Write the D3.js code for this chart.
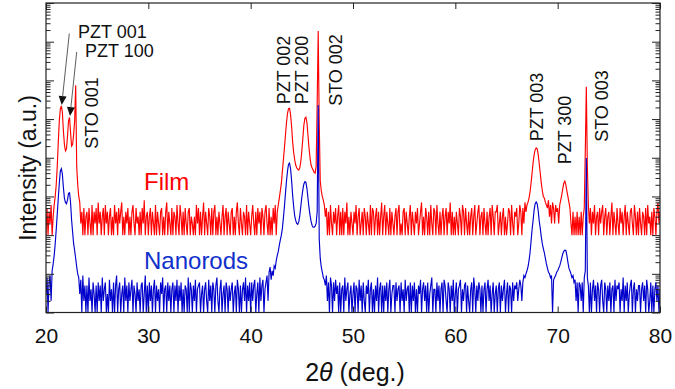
<!DOCTYPE html>
<html><head><meta charset="utf-8">
<script src="https://cdn.jsdelivr.net/npm/d3@7"></script>
<style>body{margin:0;background:#fff}svg{display:block}text{font-family:"Liberation Sans",Arial,sans-serif}</style>
</head><body><svg id="c" width="675" height="389"></svg>
<script>
// ---- data (2θ from 20° to 80° in 0.1° steps) ----
const thetaStart = 20, thetaStep = 0.1;
const filmOffset = 100; // vertical offset factor of the film pattern
const filmCounts = [
1,5,1,4,2,6,1,3,6,10,
20,60,250,900,1800,2200,1500,500,220,150,
170,350,900,1100,450,200,220,400,900,7500,
60,20,10,7,2,4,1,5,1,3,
4,1,5,2,1,6,1,4,2,5,
1,7,2,4,1,3,5,1,6,2,
4,1,3,5,1,3,1,6,2,4,
1,5,2,4,7,1,3,1,4,2,
5,1,3,1,4,6,2,1,5,2,
3,1,4,1,5,2,8,1,3,4,
1,3,5,1,4,2,1,6,1,4,
2,1,4,5,1,3,1,4,7,1,
4,2,1,5,1,4,3,1,6,2,
1,6,3,1,4,1,5,2,1,4,
5,1,3,2,1,3,1,6,2,5,
1,4,1,3,7,1,4,2,1,5,
3,1,5,1,4,6,1,3,1,4,
2,1,3,6,1,3,5,1,4,2,
1,4,5,1,3,1,4,7,2,1,
5,2,1,4,3,1,6,1,4,2,
1,3,6,2,1,4,1,5,2,4,
1,5,3,1,4,6,2,1,5,1,
3,1,5,2,6,1,4,6,9,14,
22,45,90,180,380,800,1400,1850,1900,1300,
650,260,140,90,65,55,50,48,55,80,
150,320,700,1050,1120,800,380,180,100,65,
55,48,42,40,60,2500,190000,800,25,14,
10,8,6,3,5,1,4,1,6,2,
1,4,2,5,1,3,6,1,4,1,
5,1,4,2,7,1,3,1,4,2,
1,4,2,6,1,3,5,1,2,4,
1,5,3,1,4,2,1,6,1,5,
4,1,3,5,1,4,1,3,7,1,
3,6,1,4,2,1,5,1,4,2,
1,3,5,1,4,6,1,2,1,4,
5,1,4,2,1,3,6,1,4,2,
1,4,2,5,1,2,4,7,1,3,
1,5,3,1,4,1,6,2,1,5,
4,1,6,2,1,4,1,3,5,1,
3,5,1,4,2,7,1,4,1,3,
1,4,2,1,5,3,1,6,4,1,
5,2,1,4,1,3,5,1,3,6,
1,2,4,6,1,3,4,1,5,2,
1,4,1,3,5,1,6,3,1,4,
4,6,1,2,4,1,3,5,1,3,
1,2,5,4,1,6,2,1,4,3,
5,1,2,6,4,1,5,2,7,4,
6,7,9,13,22,40,75,120,160,180,
170,120,70,40,22,14,10,9,7,6,
5,8,3,6,2,7,5,2,6,4,
5,2,6,8,11,16,22,25,20,14,
10,7,5,2,1,4,1,3,1,4,
1,3,1,4,1,3,5,150,6800,60,
6,2,5,1,4,2,6,1,3,4,
1,5,2,4,6,1,3,5,1,3,
4,1,3,7,1,4,2,1,5,2,
1,5,2,4,1,3,6,1,4,2,
1,4,5,2,1,6,3,1,4,1,
5,2,1,4,3,1,5,1,6,2,
3,1,4,1,5,3,1,4,7,2,
4];
const nanorodCounts = [
3,8,1,6,9,2,12,18,30,60,
140,350,900,2200,4500,5200,3800,1700,900,700,
650,800,1200,1250,700,250,120,60,40,25,
15,10,8,3,7,1,9,2,5,1,
5,1,8,2,4,1,6,3,1,5,
1,6,2,5,1,8,2,4,6,1,
3,1,7,2,4,1,6,1,5,9,
1,4,6,1,3,5,1,8,2,5,
1,6,2,4,7,1,5,3,1,6,
2,4,1,5,6,1,3,9,1,5,
1,6,2,5,1,4,7,1,5,2,
4,1,6,3,8,1,4,5,1,6,
2,5,1,4,6,1,5,2,7,1,
5,2,6,1,4,1,5,4,1,8,
1,6,4,1,5,2,7,1,4,5,
6,1,3,5,1,4,6,2,1,7,
2,5,1,6,4,1,5,8,2,1,
4,7,1,3,5,1,6,4,1,5,
2,4,6,1,3,5,1,7,4,1,
5,1,4,6,2,8,1,5,2,6,
1,6,2,5,7,1,3,6,1,8,
2,5,7,1,4,6,9,2,11,15,
7,12,9,16,14,22,30,38,55,75,
100,150,280,550,1200,2500,4500,6800,7300,5200,
2600,1100,550,320,240,200,190,220,320,550,
950,1500,2100,2400,2300,1600,900,520,330,230,
180,160,160,170,200,400,230000,80,25,15,
11,8,7,5,9,2,6,1,8,5,
1,6,2,7,3,5,1,6,1,4,
5,1,8,2,4,6,1,3,5,1,
3,6,1,5,4,1,7,2,5,1,
6,2,1,5,3,7,1,4,6,1,
4,1,5,2,8,1,4,6,1,5,
1,5,2,6,1,4,7,1,3,5,
5,1,6,2,4,5,1,6,2,4,
1,7,2,4,5,1,6,1,5,2,
6,1,4,1,5,3,7,1,4,6,
2,5,1,6,1,3,5,8,1,4,
4,1,6,2,5,1,4,6,1,7,
5,2,1,6,4,1,5,2,7,1,
3,6,1,4,5,7,1,4,2,5,
6,1,5,2,1,4,6,1,8,4,
1,5,2,6,4,1,5,1,4,6,
1,4,7,2,5,1,3,6,1,3,
5,1,4,6,1,5,2,4,7,1,
3,6,1,5,4,1,6,2,5,4,
6,2,4,7,5,2,6,9,8,10,
12,15,22,35,70,140,240,450,650,720,
650,420,230,150,90,60,45,35,25,18,
14,11,10,8,9,1,7,8,9,11,
12,14,16,20,26,33,38,41,40,30,
20,14,12,10,8,9,6,7,2,6,
1,6,5,2,6,1,8,12,9800,8,
5,1,6,1,4,7,2,5,1,6,
4,1,5,7,2,1,6,4,1,5,
2,6,1,4,5,1,7,2,5,4,
6,1,4,2,8,1,5,2,6,1,
3,5,7,1,4,6,1,4,2,5,
5,1,4,6,2,5,1,7,4,1,
2,6,1,5,1,4,6,2,5,1,
4];
const xTickValues = [20, 30, 40, 50, 60, 70, 80];
const yDecades = [1, 1e1, 1e2, 1e3, 1e4, 1e5, 1e6, 1e7, 1e8];
const seriesNames = ["Film", "Nanorods"];
const peakNames = ["PZT 001", "PZT 100", "STO 001", "PZT 002", "PZT 200", "STO 002", "PZT 003", "PZT 300", "STO 003"];

// ---- drawing ----
const svg = d3.select("#c");
const L = 46, R = 660, T = 3, B = 312.5;
const x = d3.scaleLinear().domain([20, 80]).range([L, R]);
const y = d3.scaleLog().domain([1, 1e8]).range([B, T]);
const red = "#ff0000", blue = "#0000cc";

svg.append("defs").append("clipPath").attr("id", "clip")
  .append("rect").attr("x", L).attr("y", T).attr("width", R - L).attr("height", B - T);

const tt = i => thetaStart + i * thetaStep;
const filmLine = d3.line().x((d, i) => x(tt(i))).y(d => y(d * filmOffset));
const rodLine = d3.line().x((d, i) => x(tt(i))).y(d => y(d));

const g = svg.append("g").attr("clip-path", "url(#clip)");
g.append("path").datum(filmCounts).attr("d", filmLine)
  .attr("fill", "none").attr("stroke", red).attr("stroke-width", 1.15).attr("stroke-linejoin", "miter");
g.append("path").datum(nanorodCounts).attr("d", rodLine)
  .attr("fill", "none").attr("stroke", blue).attr("stroke-width", 1.15).attr("stroke-linejoin", "miter");

// minor log ticks
const minor = [];
yDecades.slice(0, -1).forEach(d => { for (let k = 2; k <= 9; k++) minor.push(d * k); });

function styleAxis(sel) {
  sel.select(".domain").remove();
  sel.selectAll("line").attr("stroke", "#222").attr("stroke-width", 1);
  sel.selectAll("text").attr("fill", "#111").style("font-family", '"Liberation Sans", Arial, sans-serif');
}
// bottom
svg.append("g").attr("transform", `translate(0,${B})`)
  .call(d3.axisBottom(x).tickValues(xTickValues).tickSizeInner(-6).tickSizeOuter(0).tickPadding(15.5).tickFormat(d3.format("d")))
  .call(styleAxis).selectAll("text").attr("font-size", 21).style("font-size", "21px");
// top
svg.append("g").attr("transform", `translate(0,${T})`)
  .call(d3.axisTop(x).tickValues(xTickValues).tickSizeInner(-6).tickSizeOuter(0).tickFormat(""))
  .call(styleAxis);
// left/right major + minor
[[d3.axisLeft, L], [d3.axisRight, R]].forEach(([ax, pos]) => {
  svg.append("g").attr("transform", `translate(${pos},0)`)
    .call(ax(y).tickValues(yDecades).tickSizeInner(-8).tickSizeOuter(0).tickFormat(""))
    .call(styleAxis);
  svg.append("g").attr("transform", `translate(${pos},0)`)
    .call(ax(y).tickValues(minor).tickSizeInner(-4.5).tickSizeOuter(0).tickFormat(""))
    .call(styleAxis);
});
// frame
svg.append("rect").attr("x", L).attr("y", T).attr("width", R - L).attr("height", B - T)
  .attr("fill", "none").attr("stroke", "#222").attr("stroke-width", 1.2);

// axis titles
svg.append("text").attr("transform", "translate(28,168) rotate(-90)")
  .attr("text-anchor", "middle").attr("dominant-baseline", "central")
  .attr("font-size", 23).attr("fill", "#111").text("Intensity (a.u.)");
const xt = svg.append("text").attr("x", 355).attr("y", 381).attr("text-anchor", "middle")
  .attr("font-size", 25).attr("fill", "#111");
xt.append("tspan").text("2");
xt.append("tspan").attr("font-style", "italic").text("θ");
xt.append("tspan").text(" (deg.)");

// series labels
svg.append("text").attr("x", 144).attr("y", 190).attr("font-size", 24).attr("fill", red).text(seriesNames[0]);
svg.append("text").attr("x", 144).attr("y", 269).attr("font-size", 24).attr("fill", "#1030cc").text(seriesNames[1]);

// peak labels
svg.append("text").attr("x", 78).attr("y", 38).attr("font-size", 18).attr("fill", "#111").text(peakNames[0]);
svg.append("text").attr("x", 85).attr("y", 56.5).attr("font-size", 18).attr("fill", "#111").text(peakNames[1]);
const vpos = [null, null, [92, 113], [283.5, 70], [302, 70], [336, 70], [537, 107], [565, 130], [602, 106]];
peakNames.forEach((n, i) => {
  if (!vpos[i]) return;
  svg.append("text").attr("transform", `translate(${vpos[i][0]},${vpos[i][1]}) rotate(-90)`)
    .attr("text-anchor", "middle").attr("dominant-baseline", "central")
    .attr("font-size", 18).attr("fill", "#111").text(n);
});

// arrows
function arrow(x1, y1, x2, y2) {
  const dx = x2 - x1, dy = y2 - y1, len = Math.hypot(dx, dy);
  const ux = dx / len, uy = dy / len, hl = 9, hw = 4;
  const bx = x2 - ux * hl, by = y2 - uy * hl;
  svg.append("line").attr("x1", x1).attr("y1", y1).attr("x2", bx).attr("y2", by)
    .attr("stroke", "#333").attr("stroke-width", 0.8);
  svg.append("path").attr("d", `M${x2},${y2}L${bx - uy * hw},${by + ux * hw}L${bx + uy * hw},${by - ux * hw}Z`)
    .attr("fill", "#111");
}
arrow(69.3, 33.5, 61.7, 105);
arrow(76.7, 52, 70, 116);
</script></body></html>
